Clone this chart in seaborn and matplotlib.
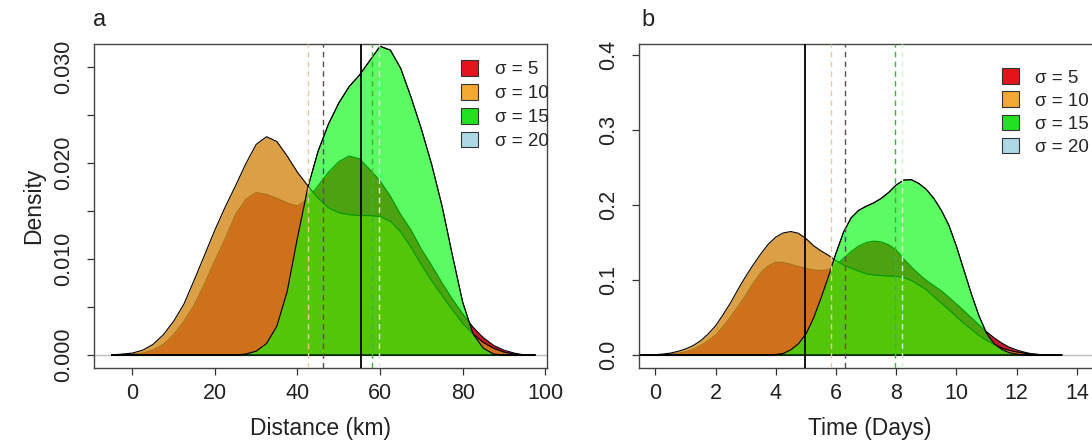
# density of distance and time for four sigma values, two panels side by side

import numpy as np
import pandas as pd
import seaborn as sns
import matplotlib
matplotlib.use('Agg')
import matplotlib.pyplot as plt
from matplotlib.patches import Patch

sigma_labels = ['σ = 5', 'σ = 10', 'σ = 15', 'σ = 20']

# panel a - distance (km), densities read every 2.5 km
dist_km = np.arange(-5, 100, 2.5)
dist_s5 = [0.0, 0.0, 0.0001, 0.0002, 0.0005, 0.0011, 0.0021, 0.0035, 0.0052, 0.0074,
           0.0098, 0.0121, 0.0146, 0.0162, 0.0169, 0.0167, 0.0163, 0.0158, 0.0155,
           0.0162, 0.0176, 0.0190, 0.0201, 0.0207, 0.0204, 0.0193, 0.0181, 0.0165,
           0.0146, 0.0130, 0.0110, 0.0093, 0.0075, 0.0058, 0.0043, 0.0029, 0.0018,
           0.0010, 0.0005, 0.0002, 0.0, 0.0]
dist_s10 = [0.0, 0.0001, 0.0002, 0.0005, 0.0011, 0.0021, 0.0035, 0.0053, 0.0078, 0.0104,
            0.0130, 0.0154, 0.0176, 0.0199, 0.0219, 0.0227, 0.0222, 0.0207, 0.0190,
            0.0176, 0.0163, 0.0153, 0.0148, 0.0146, 0.0145, 0.0145, 0.0144, 0.0139,
            0.0128, 0.0112, 0.0094, 0.0077, 0.0062, 0.0047, 0.0033, 0.0022, 0.0013,
            0.0007, 0.0003, 0.0001, 0.0, 0.0]
dist_s15 = [0.0, 0.0, 0.0, 0.0, 0.0, 0.0, 0.0, 0.0, 0.0, 0.0,
            0.0, 0.0, 0.0, 0.0001, 0.0004, 0.0012, 0.0030, 0.0066, 0.0122,
            0.0174, 0.0212, 0.0240, 0.0262, 0.0279, 0.0291, 0.0306, 0.0321, 0.0317,
            0.0298, 0.0268, 0.0235, 0.0198, 0.0155, 0.0104, 0.0055, 0.0022, 0.0007,
            0.0001, 0.0, 0.0, 0.0, 0.0]
# sigma 20 is not visible apart from sigma 15 in the figure
dist_s20 = list(dist_s15)
dist_means = [46.1, 42.6, 58.1, 59.8]
dist_true = 55.5

# panel b - time (days), densities read every 0.25 day
time_days = np.arange(-0.5, 13.75, 0.25)
time_s5 = [0.0, 0.0, 0.0002, 0.0005, 0.0011, 0.0022, 0.0042, 0.0075, 0.0125, 0.0190,
           0.0265, 0.0380, 0.0510, 0.0650, 0.0800, 0.0960, 0.1100, 0.1190, 0.1238,
           0.1235, 0.1210, 0.1180, 0.1155, 0.1135, 0.1127, 0.1140, 0.1200, 0.1290,
           0.1380, 0.1455, 0.1500, 0.1520, 0.1510, 0.1470, 0.1400, 0.1280, 0.1175,
           0.1080, 0.0995, 0.0925, 0.0855, 0.0770, 0.0680, 0.0590, 0.0495, 0.0400,
           0.0310, 0.0230, 0.0160, 0.0105, 0.0067, 0.0038, 0.0016, 0.0006, 0.0002,
           0.0, 0.0]
time_s10 = [0.0, 0.0001, 0.0005, 0.0012, 0.0025, 0.0048, 0.0080, 0.0125, 0.0190, 0.0280,
            0.0390, 0.0540, 0.0700, 0.0880, 0.1050, 0.1205, 0.1350, 0.1480, 0.1575,
            0.1630, 0.1648, 0.1625, 0.1555, 0.1460, 0.1390, 0.1330, 0.1260, 0.1200,
            0.1160, 0.1120, 0.1085, 0.1068, 0.1060, 0.1055, 0.1050, 0.1035, 0.0995,
            0.0935, 0.0870, 0.0780, 0.0690, 0.0605, 0.0510, 0.0420, 0.0340, 0.0260,
            0.0195, 0.0140, 0.0095, 0.0062, 0.0040, 0.0024, 0.0013, 0.0006, 0.0002,
            0.0, 0.0]
time_s15 = [0.0, 0.0, 0.0, 0.0, 0.0, 0.0, 0.0, 0.0, 0.0, 0.0,
            0.0, 0.0, 0.0, 0.0, 0.0, 0.0, 0.0, 0.0002, 0.0006,
            0.0020, 0.0070, 0.0150, 0.0280, 0.0490, 0.0760, 0.1050, 0.1360, 0.1640,
            0.1830, 0.1930, 0.1985, 0.2030, 0.2090, 0.2170, 0.2270, 0.2335, 0.2340,
            0.2290, 0.2210, 0.2090, 0.1930, 0.1730, 0.1450, 0.1130, 0.0810, 0.0520,
            0.0290, 0.0150, 0.0075, 0.0030, 0.0010, 0.0002, 0.0, 0.0, 0.0,
            0.0, 0.0]
time_s20 = list(time_s15)
time_means = [6.29, 5.84, 7.95, 8.18]
time_true = 4.97

# drawing order: sigma 20 underneath, then 5, 10, 15
fill_order = [3, 0, 1, 2]
fill_colors = ['#BE0014', '#D38818', '#00FF00', '#ADD8E6']
fill_alpha = [0.9, 0.8, 0.6, 0.3]
legend_colors = ['#E3141C', '#F2A833', '#22E022', '#ADD8E6']
mean_colors = ['#5A4A5A', '#E6C9A0', '#3CB43C', '#DDEEDD']

sns.set_style('ticks')
plt.rcParams['font.family'] = ['Liberation Sans', 'DejaVu Sans']

fig = plt.figure(figsize=(10.92, 4.45), dpi=100)
ax_a = fig.add_axes([93.9 / 1092, 77 / 445, 453 / 1092, 324 / 445])
ax_b = fig.add_axes([638.6 / 1092, 77 / 445, 461.4 / 1092, 324 / 445])


def draw_panel(ax, x, series, means, true_val):
    ax.axhline(0, color='#BBBBBB', lw=1, zorder=1)
    for k, i in enumerate(fill_order):
        y = np.asarray(series[i])
        z = 2 + 2 * k
        ax.fill_between(x, 0, y, color=fill_colors[i], alpha=fill_alpha[i],
                        lw=0, zorder=z)
        # closed outline like an R polygon
        df = pd.DataFrame({'x': np.concatenate([x, x[::-1]]),
                           'y': np.concatenate([y, np.zeros_like(y)])})
        sns.lineplot(data=df, x='x', y='y', sort=False, estimator=None,
                     color='black', lw=0.8, ax=ax, zorder=z + 0.5)
    for i, m in enumerate(means):
        ax.axvline(m, color=mean_colors[i], ls=(0, (4, 3)), lw=1.0, zorder=20)
    ax.axvline(true_val, color='black', lw=1.3, zorder=21)


draw_panel(ax_a, dist_km, [dist_s5, dist_s10, dist_s15, dist_s20], dist_means, dist_true)
draw_panel(ax_b, time_days, [time_s5, time_s10, time_s15, time_s20], time_means, time_true)

ax_a.set_xlim(-9.3, 100.4)
ax_a.set_ylim(-0.00135, 0.03234)
ax_a.set_xticks(range(0, 101, 20))
ax_a.set_yticks([0.0, 0.005, 0.010, 0.015, 0.020, 0.025, 0.030])
ax_a.set_yticklabels(['0.000', '', '0.010', '', '0.020', '', '0.030'])

ax_b.set_xlim(-0.56, 14.77)
ax_b.set_ylim(-0.0174, 0.4152)
ax_b.set_xticks(range(0, 15, 2))
ax_b.set_yticks([0.0, 0.1, 0.2, 0.3, 0.4])
ax_b.set_yticklabels(['0.0', '0.1', '0.2', '0.3', '0.4'])

for ax in (ax_a, ax_b):
    ax.tick_params(direction='out', length=5, width=0.9, colors='#333333',
                   labelsize=15.5, labelcolor='#222222')
    ax.tick_params(axis='x', pad=6)
    ax.tick_params(axis='y', pad=9, labelrotation=90)
    for lab in ax.get_yticklabels():
        lab.set_va('center')
    for sp in ax.spines.values():
        sp.set_color('#444444')
        sp.set_linewidth(1.0)
    ax.set_ylabel('')

ax_a.set_xlabel('Distance (km)', fontsize=16.5, color='#222222', labelpad=9)
ax_b.set_xlabel('Time (Days)', fontsize=16.5, color='#222222', labelpad=9)
ax_a.set_ylabel('Density', fontsize=16.5, color='#222222', labelpad=6)

handles = [Patch(facecolor=c, edgecolor='#333333', lw=0.8) for c in legend_colors]
ax_a.legend(handles, sigma_labels, loc='upper left', bbox_to_anchor=(0.81, 0.95),
            frameon=False, fontsize=13.5, handlelength=0.9, handleheight=0.9,
            handletextpad=0.9, labelspacing=0.3, borderaxespad=0, borderpad=0)
ax_b.legend(handles, sigma_labels, loc='upper left', bbox_to_anchor=(0.787, 0.925),
            frameon=False, fontsize=13.5, handlelength=0.9, handleheight=0.9,
            handletextpad=0.9, labelspacing=0.26, borderaxespad=0, borderpad=0)

fig.text(100 / 1092, 1 - 20 / 445, 'a', fontsize=17, ha='center', va='center', color='#222222')
fig.text(648 / 1092, 1 - 20 / 445, 'b', fontsize=17, ha='center', va='center', color='#222222')

fig.savefig('out.png', dpi=100)
